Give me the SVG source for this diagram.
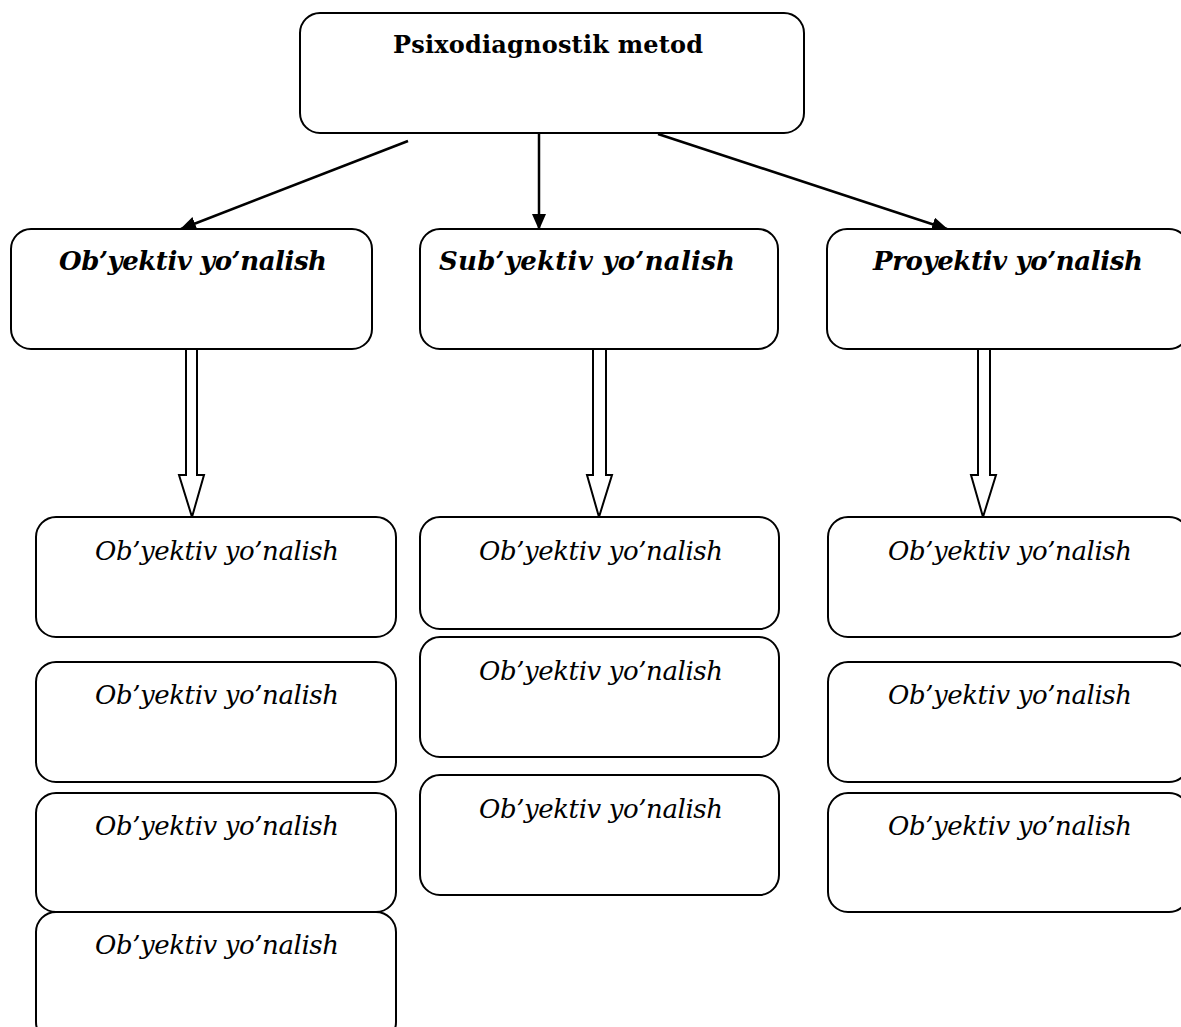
<svg xmlns="http://www.w3.org/2000/svg" width="1181" height="1027" viewBox="0 0 1181 1027">
<style>
.box{fill:#fff;stroke:#000;stroke-width:2}
.t{font-family:"DejaVu Serif","Liberation Serif",serif;fill:#000;text-anchor:middle}
.top{font-size:24px;font-weight:bold}
.h{font-size:26px;font-weight:bold;font-style:italic}
.i{font-size:26px;font-style:italic}
.ln{stroke:#000;stroke-width:2.5;fill:none}
.ha{fill:#fff;stroke:#000;stroke-width:2;stroke-linejoin:miter}
</style>
<defs>
<marker id="ah" markerUnits="userSpaceOnUse" markerWidth="16" markerHeight="14" refX="15" refY="7" orient="auto">
<path d="M0,0 L16,7 L0,14 Z" fill="#000"/>
</marker>
</defs>
<rect width="1181" height="1027" fill="#fff"/>
<g id="connectors">
<line class="ln" x1="408" y1="141" x2="181" y2="229" marker-end="url(#ah)"/>
<line class="ln" x1="539" y1="133" x2="539" y2="229" marker-end="url(#ah)"/>
<line class="ln" x1="658" y1="134" x2="947" y2="229" marker-end="url(#ah)"/>
<polygon class="ha" points="186,349 197,349 197,475 204,475 192,517 179,475 186,475"/>
<polygon class="ha" points="593,349 606,349 606,475 612,475 599,517 587,475 593,475"/>
<polygon class="ha" points="978,349 990,349 990,475 996,475 983,517 971,475 978,475"/>
</g>
<g id="n-root"><rect class="box" x="300" y="13" width="504" height="120" rx="20"/><text class="t top" x="548" y="53" textLength="310">Psixodiagnostik metod</text></g>
<g id="n-obyektiv"><rect class="box" x="11" y="229" width="361" height="120" rx="20"/><text class="t h" x="193" y="270" textLength="268">Ob’yektiv yo’nalish</text></g>
<g id="n-subyektiv"><rect class="box" x="420" y="229" width="358" height="120" rx="20"/><text class="t h" x="587" y="270" textLength="296">Sub’yektiv yo’nalish</text></g>
<g id="n-proyektiv"><rect class="box" x="827" y="229" width="362" height="120" rx="20"/><text class="t h" x="1008" y="270" textLength="270">Proyektiv yo’nalish</text></g>
<g id="n-l1"><rect class="box" x="36" y="517" width="360" height="120" rx="20"/><text class="t i" x="217" y="560" textLength="244">Ob’yektiv yo’nalish</text></g>
<g id="n-l2"><rect class="box" x="36" y="662" width="360" height="120" rx="20"/><text class="t i" x="217" y="704" textLength="244">Ob’yektiv yo’nalish</text></g>
<g id="n-l3"><rect class="box" x="36" y="793" width="360" height="119" rx="20"/><text class="t i" x="217" y="835" textLength="244">Ob’yektiv yo’nalish</text></g>
<g id="n-l4"><rect class="box" x="36" y="912" width="360" height="130" rx="20"/><text class="t i" x="217" y="954" textLength="244">Ob’yektiv yo’nalish</text></g>
<g id="n-m1"><rect class="box" x="420" y="517" width="359" height="112" rx="20"/><text class="t i" x="601" y="560" textLength="244">Ob’yektiv yo’nalish</text></g>
<g id="n-m2"><rect class="box" x="420" y="637" width="359" height="120" rx="20"/><text class="t i" x="601" y="680" textLength="244">Ob’yektiv yo’nalish</text></g>
<g id="n-m3"><rect class="box" x="420" y="775" width="359" height="120" rx="20"/><text class="t i" x="601" y="818" textLength="244">Ob’yektiv yo’nalish</text></g>
<g id="n-r1"><rect class="box" x="828" y="517" width="361" height="120" rx="20"/><text class="t i" x="1010" y="560" textLength="244">Ob’yektiv yo’nalish</text></g>
<g id="n-r2"><rect class="box" x="828" y="662" width="361" height="120" rx="20"/><text class="t i" x="1010" y="704" textLength="244">Ob’yektiv yo’nalish</text></g>
<g id="n-r3"><rect class="box" x="828" y="793" width="361" height="119" rx="20"/><text class="t i" x="1010" y="835" textLength="244">Ob’yektiv yo’nalish</text></g>
</svg>
